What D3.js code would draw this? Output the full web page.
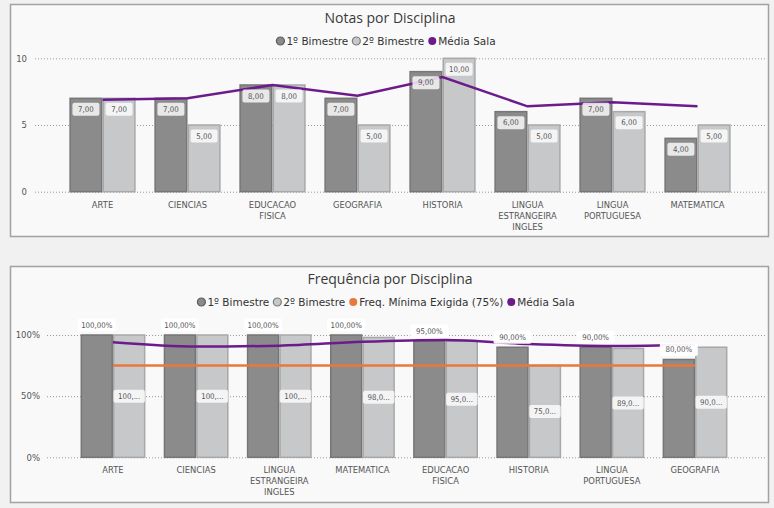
<!DOCTYPE html>
<html>
<head>
<meta charset="utf-8">
<script src="https://cdn.jsdelivr.net/npm/d3@7"></script>
<style>
  body { margin: 0; background: #f1f1f1; }
  svg { display: block; }
</style>
</head>
<body>
<div id="chart"></div>
<script>
// notas
const notasCats = ["ARTE", "CIENCIAS", "EDUCACAO FISICA", "GEOGRAFIA", "HISTORIA",
    "LINGUA ESTRANGEIRA INGLES", "LINGUA PORTUGUESA", "MATEMATICA"];
const notasBim1 = [7, 7, 8, 7, 9, 6, 7, 4];
const notasBim2 = [7, 5, 8, 5, 10, 5, 6, 5];
const notasMedia = [6.9, 7.0, 8.0, 7.2, 8.6, 6.4, 6.7, 6.4];
const notasTicks = [0, 5, 10];

// frequencia
const freqCats = ["ARTE", "CIENCIAS", "LINGUA ESTRANGEIRA INGLES", "MATEMATICA",
    "EDUCACAO FISICA", "HISTORIA", "LINGUA PORTUGUESA", "GEOGRAFIA"];
const freqBim1 = [100, 100, 100, 100, 95, 90, 90, 80];
const freqBim2 = [100, 100, 100, 98, 95, 75, 89, 90];
const freqMinima = [75, 75, 75, 75, 75, 75, 75, 75];
const freqMedia = [94, 90.5, 91.3, 94.5, 96, 92.6, 91, 92];
const freqTicks = [0, 50, 100];

const DARK = "#8b8b8b", DARK_STROKE = "#767676";
const LIGHT = "#c7c8ca", LIGHT_STROKE = "#a8a8a8";
const PURPLE = "#6c1c8a", ORANGE = "#e8783c";

const svg = d3.select("#chart").append("svg")
    .attr("width", 774)
    .attr("height", 508);

function comma(v, suffix) {
    return v.toFixed(2).replace(".", ",") + (suffix || "");
}

function drawChart(opts) {
    const g = svg.append("g");

    g.append("rect")
        .attr("x", opts.box[0]).attr("y", opts.box[1])
        .attr("width", opts.box[2]).attr("height", opts.box[3])
        .attr("fill", "#f9f9f9")
        .attr("stroke", "#a2a2a2")
        .attr("stroke-width", 1.5);

    g.append("text")
        .attr("x", 390).attr("y", opts.titleY)
        .attr("text-anchor", "middle")
        .style("font-family", "'Open Sans', sans-serif")
        .style("font-size", "14px")
        .attr("fill", "#3a3a3a")
        .text(opts.title);

    // legend
    const leg = g.append("g");
    let cx = 0;
    opts.legend.forEach(item => {
        leg.append("circle")
            .attr("cx", cx + 4).attr("cy", 0).attr("r", 4)
            .attr("fill", item.fill)
            .attr("stroke", item.stroke || "none")
            .attr("stroke-width", 1.2);
        const t = leg.append("text")
            .attr("x", cx + 10).attr("y", 0).attr("dy", "0.35em")
            .style("font-family", "'DejaVu Sans', sans-serif")
            .style("font-size", "10.5px")
            .attr("fill", "#333")
            .text(item.label);
        cx += 10 + t.node().getComputedTextLength() + 4;
    });
    leg.attr("transform", "translate(" + (388 - cx / 2) + "," + opts.legendY + ")");

    const x = d3.scaleBand()
        .domain(opts.cats)
        .range(opts.xRange)
        .paddingInner(0.22)
        .paddingOuter(0.11);
    const xs = d3.scaleBand()
        .domain([0, 1])
        .range([0, x.bandwidth()]);
    const y = d3.scaleLinear()
        .domain([0, opts.yMax])
        .range(opts.yRange);

    // grid + y labels
    const yAxis = g.append("g")
        .attr("transform", "translate(" + opts.gridX[0] + ",0)")
        .call(d3.axisLeft(y)
            .tickValues(opts.ticks)
            .tickSize(-(opts.gridX[1] - opts.gridX[0]))
            .tickPadding(opts.tickPad)
            .tickFormat(opts.tickFormat));
    yAxis.select(".domain").remove();
    yAxis.selectAll("line")
        .attr("stroke", "#9a9a9a")
        .attr("stroke-dasharray", "1,2");
    yAxis.selectAll("text")
        .style("font-family", "'DejaVu Sans', sans-serif")
        .style("font-size", "8.5px")
        .attr("fill", "#555");

    // x labels
    const xAxis = g.append("g")
        .attr("transform", "translate(0," + opts.yRange[0] + ")")
        .call(d3.axisBottom(x).tickSize(0).tickPadding(0));
    xAxis.select(".domain").remove();
    xAxis.selectAll("text").each(function (d) {
        const t = d3.select(this).text(null).attr("y", 16).attr("dy", null);
        d.split(" ").forEach((w, i) => {
            t.append("tspan").attr("x", 0).attr("dy", i === 0 ? 0 : 11).text(w);
        });
    })
        .style("font-family", "'DejaVu Sans', sans-serif")
        .style("font-size", "8.4px")
        .attr("fill", "#555");

    // bars
    const series = [
        { vals: opts.bim1, fill: DARK, stroke: DARK_STROKE },
        { vals: opts.bim2, fill: LIGHT, stroke: LIGHT_STROKE }
    ];
    series.forEach((s, si) => {
        g.append("g").selectAll("rect")
            .data(s.vals)
            .enter()
            .append("rect")
            .attr("x", (d, i) => x(opts.cats[i]) + xs(si) + 0.75)
            .attr("y", d => y(d))
            .attr("width", xs.bandwidth() - 1.5)
            .attr("height", d => y(0) - y(d))
            .attr("fill", s.fill)
            .attr("stroke", s.stroke)
            .attr("stroke-width", 1.5);
    });

    // lines
    const line = d3.line()
        .x((d, i) => x(opts.cats[i]) + x.bandwidth() / 2)
        .y(d => y(d))
        .curve(opts.curve);
    opts.lines.forEach(l => {
        g.append("path")
            .datum(l.vals)
            .attr("fill", "none")
            .attr("stroke", l.color)
            .attr("stroke-width", 2.5)
            .attr("d", line);
    });

    // data labels
    const labels = g.append("g");
    series.forEach((s, si) => {
        const pos = opts.labelPos[si];
        s.vals.forEach((v, i) => {
            const cxl = x(opts.cats[i]) + xs(si) + xs.bandwidth() / 2;
            let w, cy, txt;
            if (pos === "top") {
                w = 27; cy = y(v) + 11; txt = comma(v, opts.suffix);
            } else if (pos === "above") {
                w = 38; cy = y(v) - 10; txt = comma(v, opts.suffix);
            } else {
                w = xs.bandwidth() - 1; cy = (y(v) + y(0)) / 2;
                txt = comma(v, opts.suffix).slice(0, 4) + "...";
            }
            labels.append("rect")
                .attr("x", cxl - w / 2).attr("y", cy - 6.5)
                .attr("width", w).attr("height", 13)
                .attr("rx", 2)
                .attr("fill", "#fff")
                .attr("fill-opacity", pos === "above" ? 0.95 : 0.8);
            labels.append("text")
                .attr("x", cxl).attr("y", cy).attr("dy", "0.35em")
                .attr("text-anchor", "middle")
                .style("font-family", "'DejaVu Sans Condensed', 'DejaVu Sans', sans-serif")
                .style("font-size", "7.8px")
                .attr("fill", "#555")
                .text(txt);
        });
    });
}

drawChart({
    box: [10.5, 4.5, 758, 232],
    title: "Notas por Disciplina",
    titleY: 23,
    legendY: 41,
    legend: [
        { label: "1º Bimestre", fill: DARK, stroke: "#5e5e5e" },
        { label: "2º Bimestre", fill: LIGHT, stroke: "#7c7c7c" },
        { label: "Média Sala", fill: PURPLE }
    ],
    cats: notasCats,
    bim1: notasBim1,
    bim2: notasBim2,
    lines: [{ vals: notasMedia, color: PURPLE }],
    curve: d3.curveLinear,
    xRange: [60, 740],
    yMax: 10,
    yRange: [191.7, 58.3],
    gridX: [35, 765],
    ticks: notasTicks,
    tickPad: 8,
    tickFormat: d => d,
    labelPos: ["top", "top"],
    suffix: ""
});

drawChart({
    box: [10.5, 266.5, 758, 236],
    title: "Frequência por Disciplina",
    titleY: 284,
    legendY: 302,
    legend: [
        { label: "1º Bimestre", fill: DARK, stroke: "#5e5e5e" },
        { label: "2º Bimestre", fill: LIGHT, stroke: "#7c7c7c" },
        { label: "Freq. Mínima Exigida (75%)", fill: ORANGE },
        { label: "Média Sala", fill: PURPLE }
    ],
    cats: freqCats,
    bim1: freqBim1,
    bim2: freqBim2,
    lines: [
        { vals: freqMinima, color: ORANGE },
        { vals: freqMedia, color: PURPLE }
    ],
    curve: d3.curveMonotoneX,
    xRange: [71.4, 736.6],
    yMax: 100,
    yRange: [457.3, 335],
    gridX: [47, 765],
    ticks: freqTicks,
    tickPad: 7,
    tickFormat: d => d + "%",
    labelPos: ["above", "middle"],
    suffix: "%"
});
</script>
</body>
</html>
